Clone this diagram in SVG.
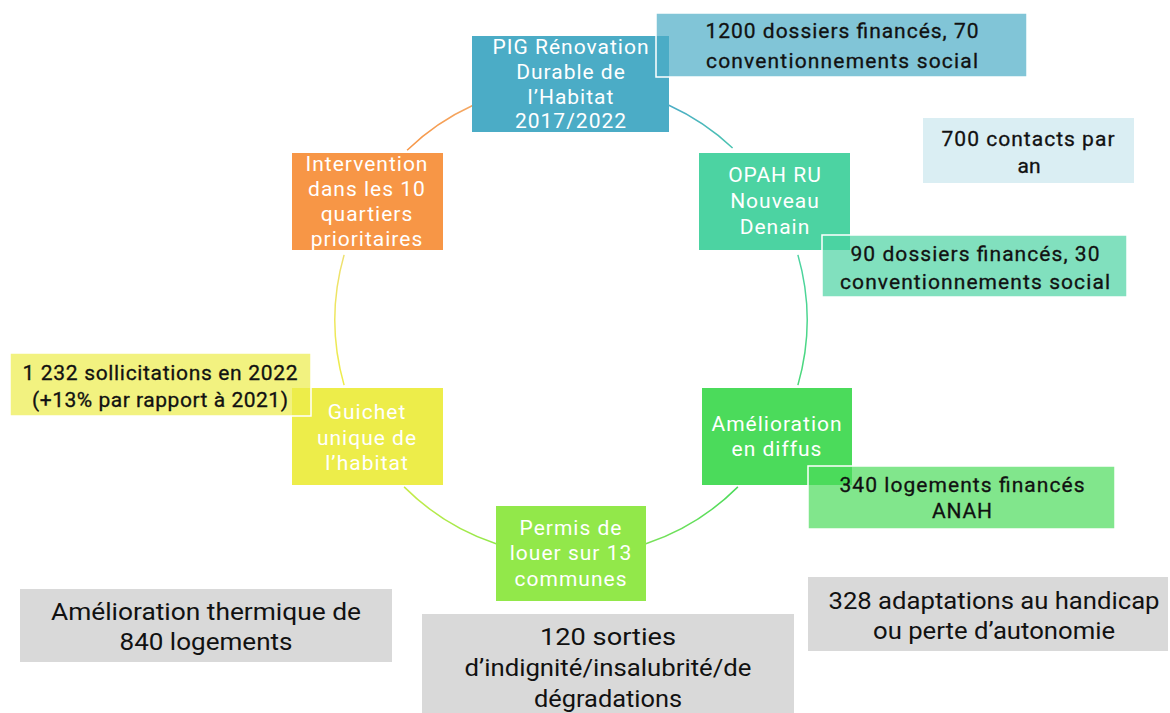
<svg xmlns="http://www.w3.org/2000/svg" width="1170" height="713" viewBox="0 0 1170 713">
  <style>
    .node-text { font-family: Roboto, "DejaVu Sans", sans-serif; font-size: 21px; letter-spacing: 1px; fill: #ffffff; text-anchor: middle; }
    .stat-text { font-family: Roboto, "DejaVu Sans", sans-serif; font-size: 21px; fill: #111111; stroke: #111111; stroke-width: 0.3px; text-anchor: middle; }
    .big-text { font-family: Roboto, "DejaVu Sans", sans-serif; font-size: 24px; fill: #111111; text-anchor: middle; }
    .stat { stroke: #ffffff; stroke-width: 1.5; }
    .arc { fill: none; stroke-width: 1.5; }
  </style>
  <defs>
    <linearGradient id="g1" gradientUnits="userSpaceOnUse" x1="669" y1="105" x2="733" y2="148">
      <stop offset="0" stop-color="#4BACC6"/><stop offset="1" stop-color="#4BC4B0"/>
    </linearGradient>
    <linearGradient id="g2" gradientUnits="userSpaceOnUse" x1="798" y1="255" x2="798" y2="385">
      <stop offset="0" stop-color="#4CD3A2"/><stop offset="1" stop-color="#4BD87A"/>
    </linearGradient>
    <linearGradient id="g3" gradientUnits="userSpaceOnUse" x1="738" y1="487" x2="646" y2="544">
      <stop offset="0" stop-color="#4BDB5B"/><stop offset="1" stop-color="#7AE25A"/>
    </linearGradient>
    <linearGradient id="g4" gradientUnits="userSpaceOnUse" x1="496" y1="544" x2="404" y2="487">
      <stop offset="0" stop-color="#92E84A"/><stop offset="1" stop-color="#C8EB4A"/>
    </linearGradient>
    <linearGradient id="g5" gradientUnits="userSpaceOnUse" x1="344" y1="385" x2="344" y2="255">
      <stop offset="0" stop-color="#EDED4A"/><stop offset="1" stop-color="#EEE070"/>
    </linearGradient>
    <linearGradient id="g6" gradientUnits="userSpaceOnUse" x1="407" y1="150" x2="473" y2="105">
      <stop offset="0" stop-color="#F79646"/><stop offset="1" stop-color="#F4A864"/>
    </linearGradient>
  </defs>

  <rect width="1170" height="713" fill="#ffffff"/>

  <!-- cycle connectors (circle centre 571,320, radius 236) -->
  <g id="connectors">
    <path class="arc" stroke="url(#g1)" d="M668.9 105.3 A236 236 0 0 1 732.6 148"/>
    <path class="arc" stroke="url(#g2)" d="M797.9 254.9 A236 236 0 0 1 797.9 385.1"/>
    <path class="arc" stroke="url(#g3)" d="M737.9 486.9 A236 236 0 0 1 645.9 543.8"/>
    <path class="arc" stroke="url(#g4)" d="M496.1 543.8 A236 236 0 0 1 404.1 486.9"/>
    <path class="arc" stroke="url(#g5)" d="M344.1 385.1 A236 236 0 0 1 344.1 254.9"/>
    <path class="arc" stroke="url(#g6)" d="M407.1 150.2 A236 236 0 0 1 473.1 105.3"/>
  </g>

  <!-- cycle nodes -->
  <g id="node-pig">
    <rect x="472" y="36" width="197" height="96" fill="#4BACC6"/>
    <text class="node-text" x="571" y="54">PIG Rénovation</text>
    <text class="node-text" x="571" y="79">Durable de</text>
    <text class="node-text" x="571" y="104">l’Habitat</text>
    <text class="node-text" x="571" y="128">2017/2022</text>
  </g>
  <g id="node-opah">
    <rect x="699" y="153" width="151" height="97" fill="#4CD3A2"/>
    <text class="node-text" x="775" y="182">OPAH RU</text>
    <text class="node-text" x="775" y="208">Nouveau</text>
    <text class="node-text" x="775" y="234">Denain</text>
  </g>
  <g id="node-diffus">
    <rect x="702" y="388" width="150" height="97" fill="#4BDB5B"/>
    <text class="node-text" x="777" y="431">Amélioration</text>
    <text class="node-text" x="777" y="456">en diffus</text>
  </g>
  <g id="node-permis">
    <rect x="496" y="506" width="150" height="95" fill="#92E84A"/>
    <text class="node-text" x="571" y="535">Permis de</text>
    <text class="node-text" x="571" y="560">louer sur 13</text>
    <text class="node-text" x="571" y="586">communes</text>
  </g>
  <g id="node-guichet">
    <rect x="292" y="388" width="151" height="97" fill="#EDED4A"/>
    <text class="node-text" x="367" y="419">Guichet</text>
    <text class="node-text" x="367" y="445">unique de</text>
    <text class="node-text" x="367" y="470">l’habitat</text>
  </g>
  <g id="node-intervention">
    <rect x="292" y="153" width="151" height="97" fill="#F79646"/>
    <text class="node-text" x="367" y="171">Intervention</text>
    <text class="node-text" x="367" y="196">dans les 10</text>
    <text class="node-text" x="367" y="221">quartiers</text>
    <text class="node-text" x="367" y="246">prioritaires</text>
  </g>

  <!-- figures attached to the nodes -->
  <g id="stat-pig">
    <rect class="stat" x="656" y="13" width="371" height="64" fill="#4BACC6" fill-opacity="0.7"/>
    <text class="stat-text" x="842" y="38" textLength="273" lengthAdjust="spacing">1200 dossiers financés, 70</text>
    <text class="stat-text" x="842" y="68" textLength="272" lengthAdjust="spacing">conventionnements social</text>
  </g>
  <g id="stat-contacts">
    <rect x="923" y="118" width="211" height="65" fill="#DAEEF3"/>
    <text class="stat-text" x="1028" y="146" textLength="173" lengthAdjust="spacing">700 contacts par</text>
    <text class="stat-text" x="1029" y="173">an</text>
  </g>
  <g id="stat-opah">
    <rect class="stat" x="822" y="235" width="305" height="62" fill="#4CD3A2" fill-opacity="0.7"/>
    <text class="stat-text" x="975" y="261" textLength="249" lengthAdjust="spacing">90 dossiers financés, 30</text>
    <text class="stat-text" x="975" y="289" textLength="270" lengthAdjust="spacing">conventionnements social</text>
  </g>
  <g id="stat-diffus">
    <rect class="stat" x="808" y="466" width="307" height="63" fill="#4BDB5B" fill-opacity="0.7"/>
    <text class="stat-text" x="962" y="492" textLength="245" lengthAdjust="spacing">340 logements financés</text>
    <text class="stat-text" x="962" y="518" textLength="60" lengthAdjust="spacing">ANAH</text>
  </g>
  <g id="stat-guichet">
    <rect class="stat" x="10" y="353" width="301" height="63" fill="#EDED4A" fill-opacity="0.7"/>
    <text class="stat-text" x="160" y="380" textLength="275" lengthAdjust="spacing">1 232 sollicitations en 2022</text>
    <text class="stat-text" x="160" y="407" textLength="256" lengthAdjust="spacing">(+13% par rapport à 2021)</text>
  </g>

  <!-- overall results -->
  <g id="result-thermique">
    <rect x="20" y="589" width="372" height="73" fill="#D9D9D9"/>
    <text class="big-text" x="206" y="620" textLength="310" lengthAdjust="spacingAndGlyphs">Amélioration thermique de</text>
    <text class="big-text" x="206" y="650" textLength="173" lengthAdjust="spacingAndGlyphs">840 logements</text>
  </g>
  <g id="result-sorties">
    <rect x="422" y="614" width="372" height="99" fill="#D9D9D9"/>
    <text class="big-text" x="608" y="645" textLength="136" lengthAdjust="spacingAndGlyphs">120 sorties</text>
    <text class="big-text" x="608" y="676" textLength="287" lengthAdjust="spacingAndGlyphs">d’indignité/insalubrité/de</text>
    <text class="big-text" x="608" y="707" textLength="148" lengthAdjust="spacingAndGlyphs">dégradations</text>
  </g>
  <g id="result-handicap">
    <rect x="808" y="577" width="360" height="74" fill="#D9D9D9"/>
    <text class="big-text" x="994" y="609" textLength="331" lengthAdjust="spacingAndGlyphs">328 adaptations au handicap</text>
    <text class="big-text" x="994" y="639" textLength="242" lengthAdjust="spacingAndGlyphs">ou perte d’autonomie</text>
  </g>
</svg>
